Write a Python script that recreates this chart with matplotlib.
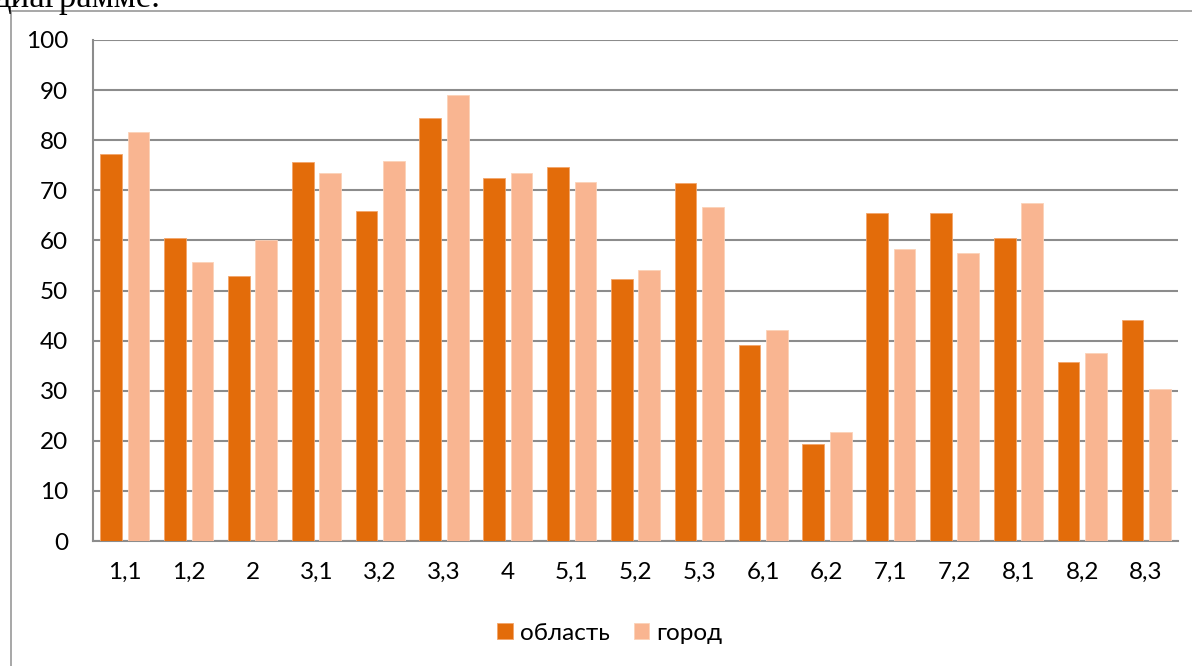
import numpy as np
from matplotlib import pyplot as plt
from matplotlib.patches import Rectangle

CATEGORIES = ['1,1', '1,2', '2', '3,1', '3,2', '3,3', '4', '5,1', '5,2',
              '5,3', '6,1', '6,2', '7,1', '7,2', '8,1', '8,2', '8,3']
OBLAST = [77.3, 60.5, 52.9, 75.7, 65.9, 84.5, 72.5, 74.6, 52.3,
          71.4, 39.2, 19.3, 65.5, 65.5, 60.4, 35.7, 44.2]
GOROD = [81.6, 55.7, 60.0, 73.4, 75.9, 89.0, 73.4, 71.6, 54.1,
         66.6, 42.2, 21.8, 58.2, 57.4, 67.4, 37.5, 30.3]
SERIES_NAMES = ['область', 'город']
COLORS = ('#E36C0A', '#F9B591')
GRID = '#8C8C8C'

W, H = 1192, 666
fig = plt.figure(figsize=(W / 100, H / 100), dpi=100)

# outer chart frame, running off the right and bottom edges
fig.patches.append(Rectangle((11 / W, -0.1), 1.2, 1 - 11 / H + 0.1,
                             transform=fig.transFigure, fill=False,
                             edgecolor='#A0A0A0', linewidth=1.3))
# clipped caption line from the document above the chart
fig.text(-6 / W, 1 - 7 / H, 'диаграмме.', family='Liberation Serif',
         fontsize=25, va='baseline', ha='left', color='black')

ax = fig.add_axes([93 / W, 1 - 541 / H, (1178 - 93) / W, (541 - 40) / H])
x = np.arange(len(CATEGORIES))
w = 0.34
ax.bar(x - 0.215, OBLAST, w, color=COLORS[0], edgecolor='#F3A56A', linewidth=0.6,
       label=SERIES_NAMES[0], zorder=3)
ax.bar(x + 0.215, GOROD, w, color=COLORS[1], edgecolor='#FCD2B8', linewidth=0.6,
       label=SERIES_NAMES[1], zorder=3)

ax.set_xlim(-0.5, len(CATEGORIES) - 0.5)
ax.set_ylim(0, 100)
ax.set_yticks(range(0, 101, 10))
ax.set_xticks(x)
ax.set_xticklabels(CATEGORIES)
ax.grid(axis='y', color=GRID, linewidth=1.5, zorder=0)
for s in ('top', 'right'):
    ax.spines[s].set_visible(False)
for s in ('left', 'bottom'):
    ax.spines[s].set_color(GRID)
    ax.spines[s].set_linewidth(1.5)
ax.tick_params(length=0, labelsize=17.5, pad=15)
ax.tick_params(axis='y', pad=18)
for lab in ax.get_xticklabels() + ax.get_yticklabels():
    lab.set_family('Lato')

leg = ax.legend(loc='center',
                bbox_to_anchor=((610 - 93) / (1178 - 93), (541 - 633) / (541 - 40)),
                ncol=2, frameon=False, handlelength=0.62, handleheight=0.62,
                handletextpad=0.3, columnspacing=1.0,
                prop={'family': 'Lato', 'size': 17.5})

plt.savefig('out.png', dpi=100)
plt.close()
